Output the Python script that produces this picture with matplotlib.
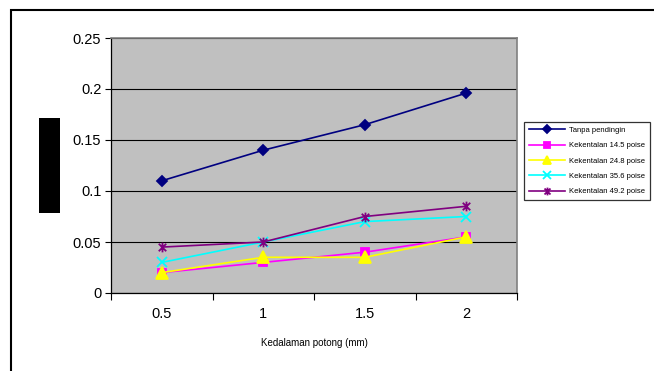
import numpy as np
import matplotlib.pyplot as plt
from matplotlib.path import Path
from matplotlib.patches import Rectangle

# Data
kedalaman = ['0.5', '1', '1.5', '2']
tanpa_pendingin = [0.11, 0.14, 0.165, 0.196]
kekentalan_145 = [0.02, 0.03, 0.04, 0.055]
kekentalan_248 = [0.02, 0.035, 0.035, 0.055]
kekentalan_356 = [0.03, 0.05, 0.07, 0.075]
kekentalan_492 = [0.045, 0.05, 0.075, 0.085]

# Excel style star marker: an x with a vertical bar through it
star = Path([(-1, -1), (1, 1), (-1, 1), (1, -1), (0, -1.3), (0, 1.3)],
            [Path.MOVETO, Path.LINETO, Path.MOVETO, Path.LINETO, Path.MOVETO, Path.LINETO])

plt.rcParams['font.family'] = ['Liberation Sans', 'DejaVu Sans']

fig = plt.figure(figsize=(6.54, 3.71), dpi=100)
W, H = 654, 371
ax = fig.add_axes([111 / W, 1 - 293 / H, 406 / W, 255 / H])
ax.set_facecolor('#c0c0c0')

x = np.arange(len(kedalaman)) + 0.5
series = [
    ('Tanpa pendingin', tanpa_pendingin, '#000080', 'D', 5),
    ('Kekentalan 14.5 poise', kekentalan_145, '#ff00ff', 's', 6),
    ('Kekentalan 24.8 poise', kekentalan_248, '#ffff00', '^', 8),
    ('Kekentalan 35.6 poise', kekentalan_356, '#00ffff', 'x', 7),
    ('Kekentalan 49.2 poise', kekentalan_492, '#800080', star, 7),
]
for label, vals, color, marker, ms in series:
    ax.plot(x, vals, color=color, lw=1.2, marker=marker, markersize=ms,
            markeredgewidth=1.3, label=label, zorder=3)

ax.set_xlim(0, 4)
ax.set_ylim(0, 0.25)
ax.set_yticks(np.arange(0, 0.26, 0.05))
ax.set_yticklabels(['0', '0.05', '0.1', '0.15', '0.2', '0.25'], fontsize=10.5)
ax.yaxis.grid(True, color='black', lw=0.8)
ax.set_axisbelow(True)
ax.set_xticks(np.arange(0, 5))
ax.set_xticklabels([])
ax.set_xticks(x, minor=True)
ax.set_xticklabels(kedalaman, minor=True, fontsize=10.5)
ax.tick_params(axis='x', which='minor', length=0, pad=10)
ax.tick_params(axis='x', which='major', length=5, width=0.8, direction='out')
ax.tick_params(axis='y', length=4, width=0.8, direction='out', pad=3)

for side in ['left', 'bottom']:
    ax.spines[side].set_color('black')
    ax.spines[side].set_linewidth(0.9)
for side in ['top', 'right']:
    ax.spines[side].set_color('#808080')
    ax.spines[side].set_linewidth(1.2)

ax.set_xlabel('Kedalaman potong (mm)', fontsize=7, labelpad=12)

leg = fig.legend(loc='upper left', bbox_to_anchor=(524 / W, 1 - 122 / H),
                 fontsize=5.5, frameon=True, fancybox=False, edgecolor='black',
                 borderpad=0.6, labelspacing=1.05, handlelength=4.8,
                 handletextpad=0.5, borderaxespad=0, markerscale=0.8)
leg.get_frame().set_linewidth(0.9)

# Outer chart border and the y axis title block
fig.patches.append(Rectangle((11 / W, -0.1), 1.2, 1 - 10 / H + 0.1,
                             transform=fig.transFigure, fill=False,
                             edgecolor='black', lw=1.5))
fig.patches.append(Rectangle((39 / W, 1 - 213 / H), 21 / W, 95 / H,
                             transform=fig.transFigure, facecolor='black',
                             edgecolor='none'))

fig.savefig('out.png', dpi=100)
